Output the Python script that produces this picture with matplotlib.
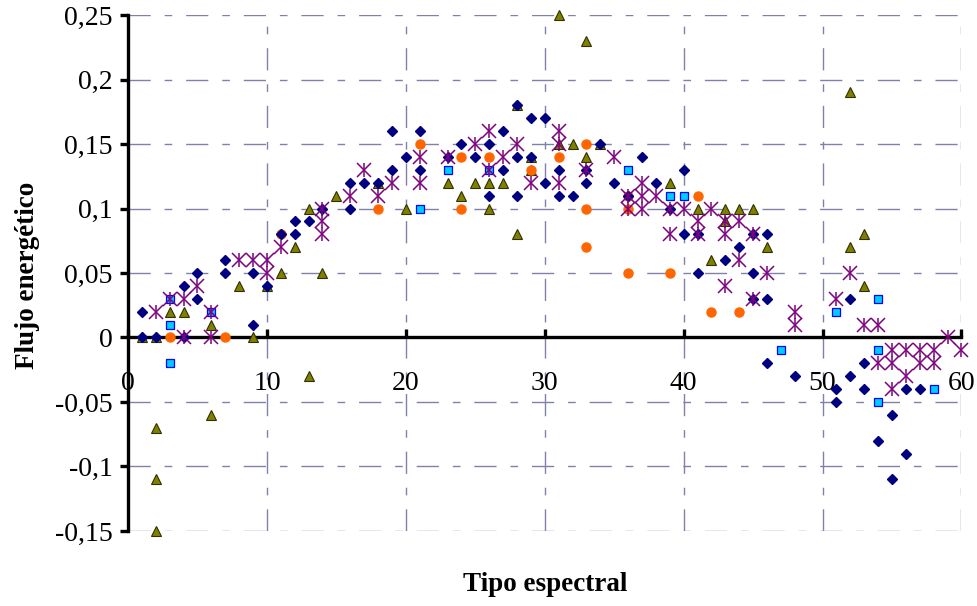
import numpy as np
import matplotlib.pyplot as plt

plt.rcParams['font.family'] = ['Liberation Serif', 'DejaVu Serif']

# datos: (tipo espectral, flujo) por serie
rombo_x = [1, 1, 2, 4, 4, 5, 5, 7, 7, 9, 9, 10, 11, 12, 12, 13, 14, 16, 16, 17, 18,
           19, 19, 20, 21, 21, 23, 24, 25, 26, 26, 27, 27, 28, 28, 28, 29, 29, 30, 30,
           31, 31, 32, 33, 33, 34, 35, 36, 37, 38, 39, 40, 40, 41, 41, 43, 44, 45, 45,
           45, 46, 46, 46, 48, 51, 51, 52, 52, 53, 53, 54, 55, 55, 56, 56, 57]
rombo_y = [0, 0.02, 0, 0.04, 0, 0.05, 0.03, 0.06, 0.05, 0.05, 0.01, 0.04, 0.08, 0.09, 0.08,
           0.09, 0.10, 0.12, 0.10, 0.12, 0.12, 0.16, 0.13, 0.14, 0.16, 0.13, 0.14, 0.15, 0.14,
           0.15, 0.11, 0.16, 0.13, 0.18, 0.14, 0.11, 0.17, 0.14, 0.17, 0.12, 0.13, 0.11, 0.11,
           0.13, 0.12, 0.15, 0.12, 0.11, 0.14, 0.12, 0.10, 0.13, 0.08, 0.08, 0.05, 0.06, 0.07,
           0.08, 0.05, 0.03, 0.08, 0.03, -0.02, -0.03, -0.04, -0.05, 0.03, -0.03, -0.02, -0.04,
           -0.08, -0.06, -0.11, -0.04, -0.09, -0.04]

circulo_x = [3, 7, 11, 18, 21, 24, 24, 26, 29, 31, 33, 33, 33, 36, 36, 36, 39, 41, 42, 44]
circulo_y = [0, 0, 0.08, 0.10, 0.15, 0.14, 0.10, 0.14, 0.13, 0.14, 0.15, 0.10, 0.07,
             0.11, 0.10, 0.05, 0.05, 0.11, 0.02, 0.02]

triangulo_x = [1, 2, 2, 2, 2, 3, 4, 6, 6, 8, 9, 10, 11, 12, 13, 13, 14, 15, 18, 20, 23, 24,
               25, 26, 26, 27, 28, 28, 29, 29, 31, 31, 32, 33, 33, 34, 39, 41, 42, 43, 43,
               44, 45, 46, 52, 52, 53, 53]
triangulo_y = [0, 0, -0.07, -0.11, -0.15, 0.02, 0.02, 0.01, -0.06, 0.04, 0, 0.04, 0.05, 0.07,
               0.10, -0.03, 0.05, 0.11, 0.12, 0.10, 0.12, 0.11, 0.12, 0.12, 0.10, 0.12, 0.18,
               0.08, 0.14, 0.13, 0.25, 0.15, 0.15, 0.23, 0.14, 0.15, 0.12, 0.10, 0.06, 0.10,
               0.09, 0.10, 0.10, 0.07, 0.19, 0.07, 0.08, 0.04]

cuadrado_x = [3, 3, 3, 6, 21, 23, 26, 36, 39, 40, 47, 51, 54, 54, 54, 58]
cuadrado_y = [0.03, 0.01, -0.02, 0.02, 0.10, 0.13, 0.13, 0.13, 0.11, 0.11, -0.01, 0.02,
              0.03, -0.01, -0.05, -0.04]

estrella_x = [2, 3, 4, 4, 5, 6, 6, 8, 9, 10, 10, 11, 14, 14, 14, 16, 17, 18, 19, 21, 21, 23,
              25, 26, 26, 27, 28, 29, 31, 31, 31, 33, 35, 36, 36, 37, 37, 37, 38, 39, 39, 40,
              41, 41, 42, 43, 43, 43, 44, 44, 45, 45, 46, 48, 48, 51, 52, 53, 54, 54, 55, 55,
              55, 56, 56, 57, 57, 58, 58, 59, 60]
estrella_y = [0.02, 0.03, 0.03, 0, 0.04, 0.02, 0, 0.06, 0.06, 0.06, 0.05, 0.07, 0.10, 0.09,
              0.08, 0.11, 0.13, 0.11, 0.12, 0.14, 0.12, 0.14, 0.15, 0.16, 0.13, 0.14, 0.15,
              0.12, 0.16, 0.15, 0.12, 0.13, 0.14, 0.11, 0.10, 0.12, 0.11, 0.10, 0.11, 0.10,
              0.08, 0.10, 0.09, 0.08, 0.10, 0.09, 0.08, 0.04, 0.09, 0.06, 0.08, 0.03, 0.05,
              0.02, 0.01, 0.03, 0.05, 0.01, 0.01, -0.02, -0.01, -0.02, -0.04, -0.01, -0.03,
              -0.01, -0.02, -0.01, -0.02, 0, -0.01]

xticks = [0, 10, 20, 30, 40, 50, 60]
yticks = [-0.15, -0.1, -0.05, 0, 0.05, 0.1, 0.15, 0.2, 0.25]
ytick_labels = ['-0,15', '-0,1', '-0,05', '0', '0,05', '0,1', '0,15', '0,2', '0,25']

fig = plt.figure(figsize=(9.78, 6.06), dpi=100)
ax = fig.add_axes([0.1309, 0.1238, 0.8522, 0.8514])

# series (orden de dibujo como en el original)
ax.plot(triangulo_x, triangulo_y, '^', ms=7.5, mfc='#808000', mec='#303000', mew=0.8,
        ls='none', clip_on=False, zorder=3)
ax.plot(circulo_x, circulo_y, 'o', ms=6.5, mfc='#FF6600', mec='#FF6600',
        ls='none', clip_on=False, zorder=4)
ax.plot(cuadrado_x, cuadrado_y, 's', ms=5.8, mfc='#00CCFF', mec='#0000FF', mew=0.9,
        ls='none', clip_on=False, zorder=5)
ax.plot(rombo_x, rombo_y, 'D', ms=5.2, mfc='#000080', mec='#000080',
        ls='none', clip_on=False, zorder=6)
ax.plot(estrella_x, estrella_y, 'x', ms=9.5, mec='#800080', mew=1.1,
        ls='none', clip_on=False, zorder=7)
ax.plot(estrella_x, estrella_y, '|', ms=9.5, mec='#800080', mew=1.1,
        ls='none', clip_on=False, zorder=7)

ax.set_xlim(0, 60)
ax.set_ylim(-0.15, 0.25)
ax.set_xticks(xticks)
ax.set_yticks(yticks)
ax.set_yticklabels(ytick_labels)

ax.grid(True, color='#8080AA', lw=1.0, ls=(0, (16, 10, 5.5, 10)), zorder=1)

ax.spines['top'].set_visible(False)
ax.spines['right'].set_visible(False)
ax.spines['bottom'].set_position(('data', 0))
ax.spines['bottom'].set_linewidth(2.4)
ax.spines['left'].set_linewidth(2.4)
ax.spines['bottom'].set_zorder(2)

ax.tick_params(axis='x', direction='in', length=6, width=2.4, pad=24, labelsize=20)
ax.tick_params(axis='y', direction='out', length=6, width=2.4, pad=5, labelsize=20)

ax.set_xlabel('Tipo espectral', fontsize=19.5, fontweight='bold')
ax.set_ylabel('Flujo energético', fontsize=19.5, fontweight='bold')
ax.xaxis.set_label_coords(0.50, -0.079)
ax.yaxis.set_label_coords(-0.106, 0.495)

fig.savefig('out.png', dpi=100)
